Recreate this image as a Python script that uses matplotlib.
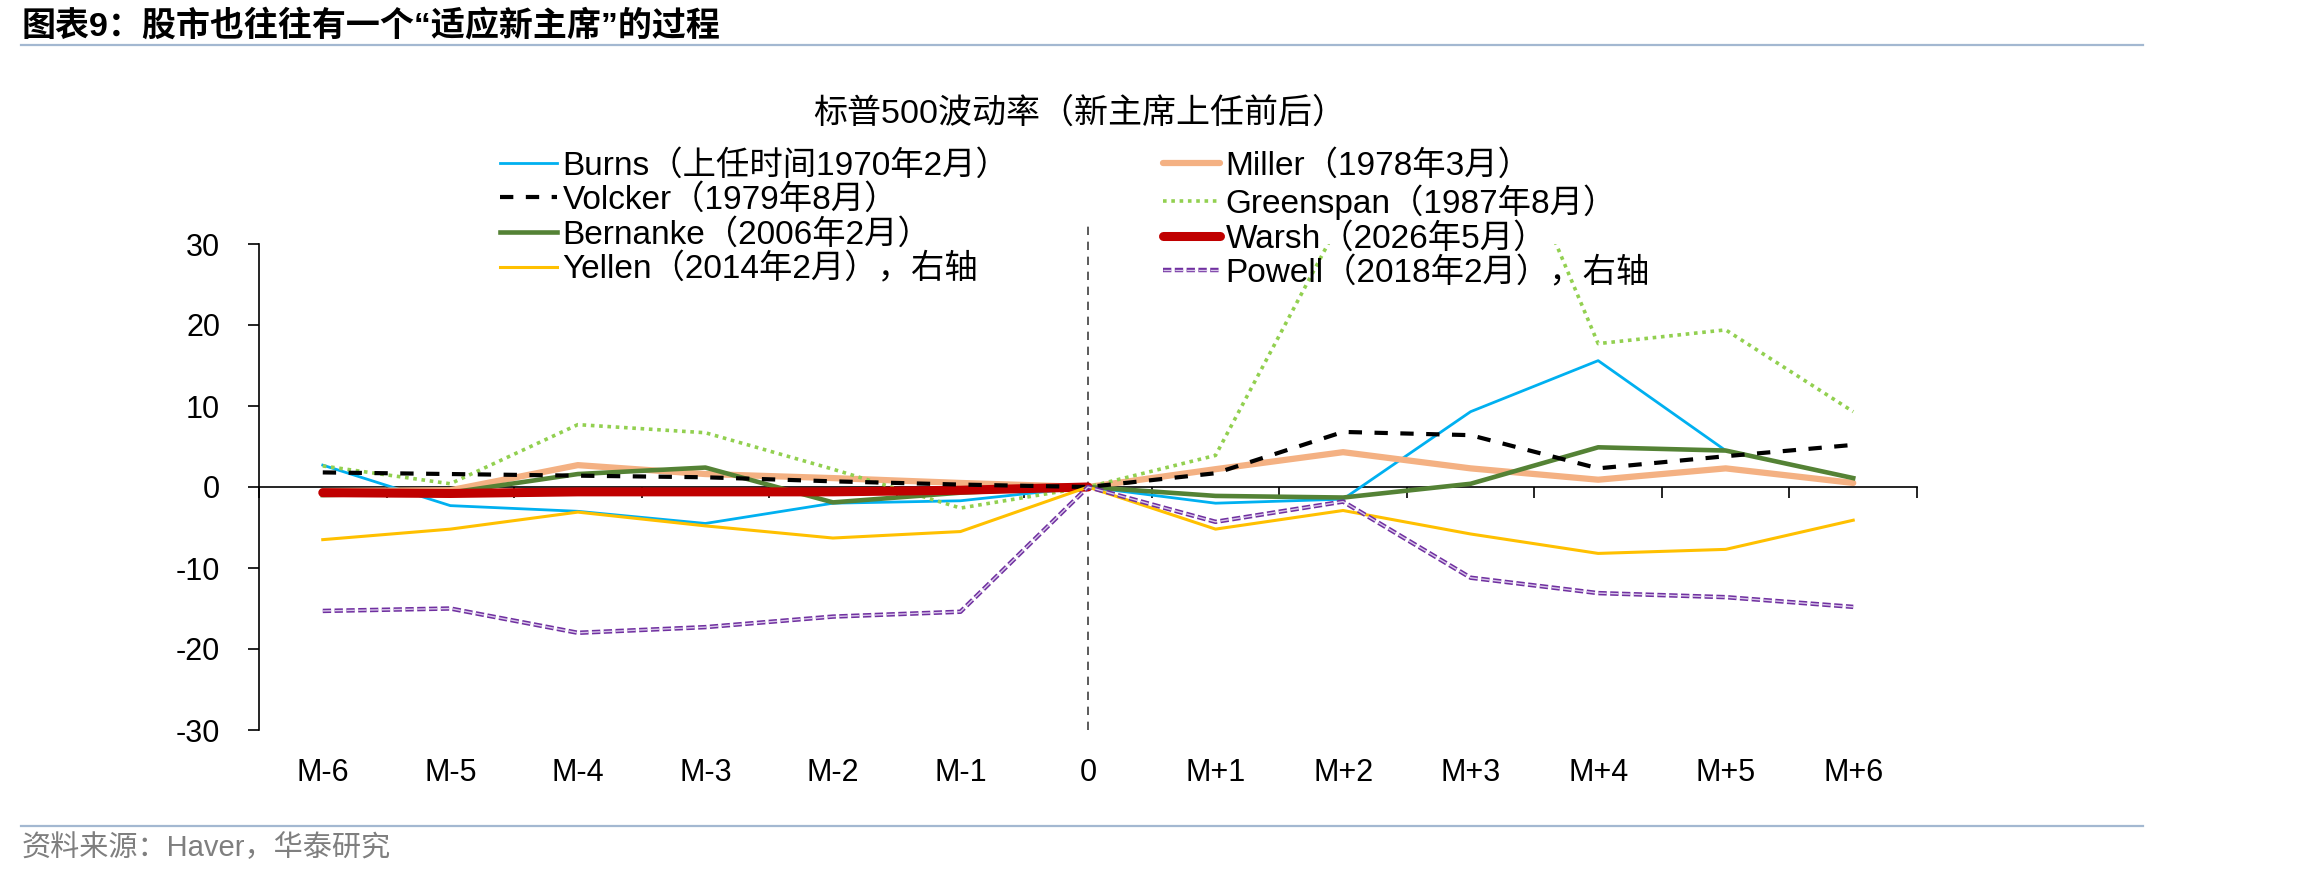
import matplotlib
matplotlib.use('Agg')
import matplotlib.pyplot as plt
import matplotlib.patheffects as pe
from matplotlib.lines import Line2D
import numpy as np

plt.rcParams['font.family'] = ['Liberation Sans', 'Noto Sans CJK SC']
plt.rcParams['axes.unicode_minus'] = False

# months around the new chair taking office
months = ['M-6', 'M-5', 'M-4', 'M-3', 'M-2', 'M-1', '0',
          'M+1', 'M+2', 'M+3', 'M+4', 'M+5', 'M+6']

# S&P 500 volatility, change vs. month 0
burns = [2.7, -2.3, -3.0, -4.5, -2.0, -1.7, 0, -2.0, -1.5, 9.3, 15.6, 4.5, 1.1]
miller = [-0.5, -0.4, 2.7, 1.6, 1.1, 0.5, 0, 2.2, 4.3, 2.3, 0.9, 2.3, 0.5]
volcker = [1.8, 1.6, 1.4, 1.2, 0.7, 0.3, 0, 1.7, 6.8, 6.4, 2.3, 3.8, 5.2]
greenspan = [2.6, 0.4, 7.7, 6.7, 2.2, -2.6, 0, 3.9, 33.5, 55.0, 17.7, 19.4, 9.3]
bernanke = [-1.0, -0.7, 1.6, 2.4, -1.9, -0.7, 0, -1.1, -1.3, 0.4, 4.9, 4.5, 1.1]
warsh = [-0.7, -0.8, -0.6, -0.6, -0.6, -0.4, 0,
         np.nan, np.nan, np.nan, np.nan, np.nan, np.nan]
yellen = [-6.5, -5.2, -3.1, -4.8, -6.3, -5.5, 0, -5.2, -2.9, -5.8, -8.2, -7.7, -4.1]
powell = [-15.3, -15.0, -18.0, -17.3, -16.0, -15.4, 0, -4.3, -1.8, -11.2, -13.1, -13.6, -14.8]

fig = plt.figure(figsize=(22.98, 8.81), dpi=100)
ax = fig.add_axes([259 / 2298, 1 - 730 / 881, 1658 / 2298, 486 / 881])
x = np.arange(len(months))

l_burns, = ax.plot(x, burns, color='#00B0F0', lw=2.0, zorder=3,
                   label='Burns（上任时间1970年2月）')
l_miller, = ax.plot(x, miller, color='#F4B183', lw=4.5, zorder=3,
                    solid_capstyle='round', label='Miller（1978年3月）')
l_greenspan, = ax.plot(x, greenspan, color='#92D050', lw=2.6, zorder=3,
                       dashes=(1, 1.3), label='Greenspan（1987年8月）')
l_bernanke, = ax.plot(x, bernanke, color='#548235', lw=3.3, zorder=3,
                      label='Bernanke（2006年2月）')
l_warsh, = ax.plot(x, warsh, color='#C00000', lw=6.5, zorder=4,
                   solid_capstyle='round', label='Warsh（2026年5月）')
l_volcker, = ax.plot(x, volcker, color='black', lw=3.0, zorder=5,
                     dashes=(3.2, 3.0), label='Volcker（1979年8月）')
l_yellen, = ax.plot(x, yellen, color='#FFC000', lw=2.2, zorder=5,
                    label='Yellen（2014年2月），右轴')
l_powell, = ax.plot(x, powell, color='#D9C8EA', lw=1.0, zorder=5,
                    dashes=(6.0, 2.5),
                    path_effects=[pe.Stroke(linewidth=3.2, foreground='#7030A0'),
                                  pe.Normal()],
                    label='Powell（2018年2月），右轴')

ax.set_xlim(-0.5, len(months) - 0.5)
ax.set_ylim(-30, 30)
ax.set_yticks(range(-30, 31, 10))
ax.spines['top'].set_visible(False)
ax.spines['right'].set_visible(False)
ax.spines['bottom'].set_position(('data', 0))
ax.spines['left'].set_linewidth(1.2)
ax.spines['bottom'].set_linewidth(1.2)
ax.set_xticks(np.arange(-0.5, len(months), 1))
ax.set_xticklabels([])
ax.tick_params(axis='x', length=8, width=1.2, direction='out')
ax.tick_params(axis='y', length=8, width=1.2, direction='out', pad=20, labelsize=22)

sec = ax.secondary_xaxis('bottom')
sec.set_xticks(x, months)
sec.tick_params(length=0, pad=20, labelsize=22)
sec.spines['bottom'].set_visible(False)

# dashed line at the month the chair takes office
ax.axvline(x[months.index('0')], ymin=0, ymax=1.045, color='#404040',
           lw=1.2, ls=(0, (5, 4)), clip_on=False, zorder=2)

leg_kw = dict(loc='upper left', frameon=False, fontsize=24, borderpad=0,
              borderaxespad=0, handlelength=1.7, handletextpad=0.18,
              labelspacing=0.08)
fig.legend(handles=[l_burns, l_volcker, l_bernanke, l_yellen],
           bbox_to_anchor=(500 / 2298, 1 - 150 / 881), **leg_kw)
fig.legend(handles=[l_miller, l_greenspan, l_warsh, l_powell],
           bbox_to_anchor=(1163 / 2298, 1 - 150 / 881), **leg_kw)

fig.text(1080 / 2298, 1 - 114 / 881, '标普500波动率（新主席上任前后）',
         ha='center', va='center', fontsize=24.5)
fig.text(22 / 2298, 1 - 26 / 881, '图表9：股市也往往有一个“适应新主席”的过程',
         ha='left', va='center', fontsize=24.5, fontweight='bold')
fig.text(22 / 2298, 1 - 848 / 881, '资料来源：Haver，华泰研究',
         ha='left', va='center', fontsize=21, color='#7F7F7F')

fig.add_artist(Line2D([21 / 2298, 2143 / 2298], [1 - 44.5 / 881] * 2,
                      color='#A3B8D1', lw=1.6))
fig.add_artist(Line2D([21 / 2298, 2143 / 2298], [1 - 826 / 881] * 2,
                      color='#A3B8D1', lw=1.6))

fig.savefig('out.png', dpi=100)
